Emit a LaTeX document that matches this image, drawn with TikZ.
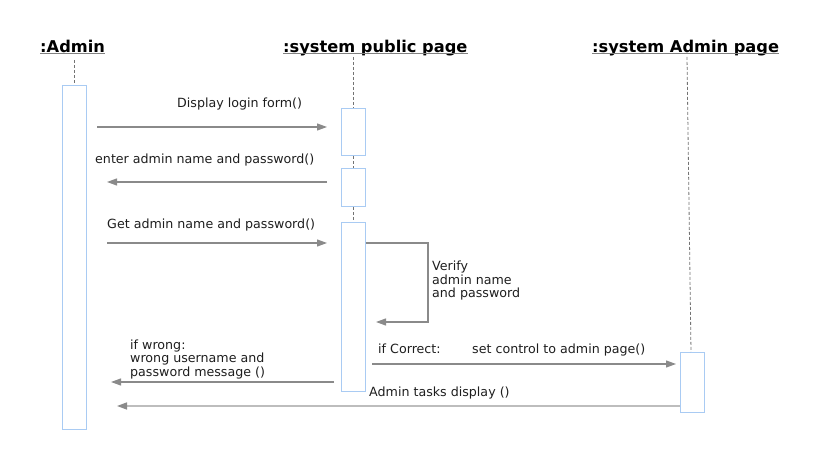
\documentclass[tikz,border=0pt]{standalone}
\usepackage{fontspec}
\setmainfont{DejaVu Sans}
\usetikzlibrary{arrows.meta}
\definecolor{actblue}{HTML}{A9CBF3}
\definecolor{msggray}{HTML}{8A8A8A}
\definecolor{msglight}{HTML}{BDBDBD}
\definecolor{lblcol}{HTML}{1E1E1E}
\tikzset{
  actbox/.style={draw=actblue, line width=1bp, fill=white, minimum width=24bp, inner sep=0pt, anchor=north},
  lifeline/.style={draw=black!55, dashed, dash pattern=on 3bp off 2bp, line width=0.8bp},
  msg/.style={draw=msggray, line width=1.1bp, -{Triangle[length=10bp,width=7bp]}},
  msgl/.style={draw=msglight, line width=1.4bp, -{Triangle[length=10bp,width=7bp,color=msggray]}},
  lbl/.style={font=\fontsize{12.7}{14}\selectfont, anchor=base west, inner sep=0pt, text=lblcol},
  ttl/.style={font=\fontsize{16.3}{18}\selectfont\bfseries, anchor=base west, inner sep=0pt},
}
\begin{document}
\begin{tikzpicture}[x=1bp,y=-1bp]
\useasboundingbox (0,0) rectangle (822,452);
% titles
\node[ttl] (tA) at (40,52.5) {:Admin};
\node[ttl] (tP) at (283,52.5) {:system public page};
\node[ttl] (tS) at (592,52.5) {:system Admin page};
\foreach \t in {tA,tP,tS}{\draw[gray, line width=1bp] ([yshift=-1.5bp]\t.base west) -- ([yshift=-1.5bp]\t.base east);}
% activation boxes
\node[actbox, minimum height=344bp] (aA) at (74,85) {};
\node[actbox, minimum height=47bp] (p1) at (353,108) {};
\node[actbox, minimum height=38bp] (p2) at (353,168) {};
\node[actbox, minimum height=169bp] (p3) at (353,222) {};
\node[actbox, minimum height=60bp] (s1) at (692,352) {};
% lifelines
\coordinate (lA) at (74,60);
\coordinate (lP) at (353,57);
\coordinate (lS) at (687,57);
\draw[lifeline] (lA) -- (aA.north);
\draw[lifeline] (lP) -- (p1.north);
\draw[lifeline] (p1.south) -- (p2.north);
\draw[lifeline] (p2.south) -- (p3.north);
\draw[lifeline] (lS) -- ([xshift=-1bp]s1.north);
% message end points
\coordinate (m1a) at (97,127);  \coordinate (m1b) at (327,127);
\coordinate (m2a) at (327,182); \coordinate (m2b) at (107,182);
\coordinate (m3a) at (107,243); \coordinate (m3b) at (327,243);
\coordinate (v1) at (428,243);  \coordinate (v2) at (428,322); \coordinate (v3) at (376,322);
\coordinate (m5a) at (334,382); \coordinate (m5b) at (111,382);
\coordinate (m6a) at (372,364); \coordinate (m6b) at (676,364);
\coordinate (m7b) at (117,406);
% messages
\draw[msg] (m1a) -- (m1b);
\draw[msg] (m2a) -- (m2b);
\draw[msg] (m3a) -- (m3b);
\draw[msg] (p3.east |- v1) -- (v1) -- (v2) -- (v3);
\draw[msg] (m5a) -- (m5b);
\draw[msg] (m6a) -- (m6b);
\draw[msgl] (s1.west |- m7b) -- (m7b);
% labels
\node[lbl] (L1) at (177,108) {Display login form()};
\node[lbl] (L2) at (95,164) {enter admin name and password()};
\node[lbl] (L3) at (107,229) {Get admin name and password()};
\node[lbl] (L4a) at (432,271) {Verify};
\node[lbl] (L4b) at (432,284.5) {admin name};
\node[lbl] (L4c) at (432,298) {and password};
\node[lbl] (L5a) at (130,349.5) {if wrong:};
\node[lbl] (L5b) at (130,363) {wrong username and};
\node[lbl] (L5c) at (130,376.5) {password message ()};
\node[lbl] (L6) at (378,354) {if Correct:};
\node[lbl] (L7) at (472,354) {set control to admin page()};
\node[lbl] (L8) at (369,396) {Admin tasks display ()};
\end{tikzpicture}
\end{document}
